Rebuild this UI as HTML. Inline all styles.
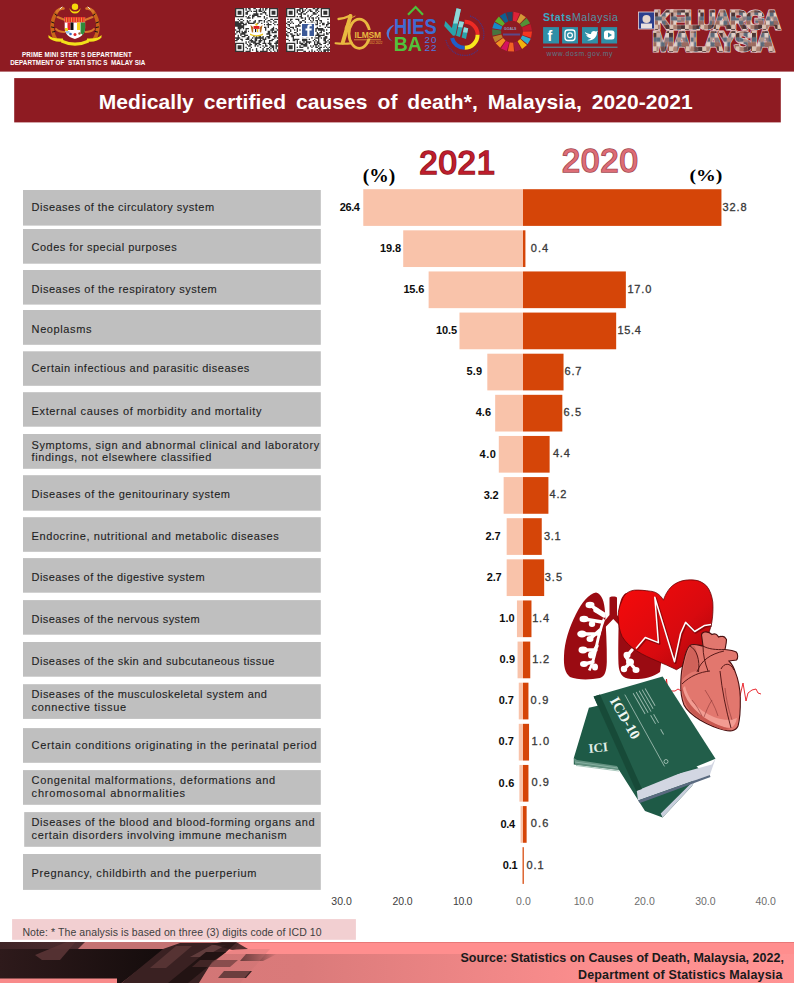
<!DOCTYPE html>
<html><head><meta charset="utf-8"><style>html,body{margin:0;padding:0;background:#fff;overflow:hidden;width:794px;height:983px;} svg{display:block} text{white-space:pre}</style></head>
<body><svg width="794" height="983" viewBox="0 0 794 983">
<rect x="0" y="0" width="794" height="71.6" fill="#8E1B22"/>
<rect x="14.2" y="78.1" width="766.6" height="44.3" fill="#8E1B22"/>
<rect x="23" y="190" width="297.8" height="35.6" fill="#BFBFBF"/>
<rect x="23" y="229" width="297.8" height="34.7" fill="#BFBFBF"/>
<rect x="23" y="270" width="297.8" height="34.6" fill="#BFBFBF"/>
<rect x="23" y="310" width="297.8" height="34.8" fill="#BFBFBF"/>
<rect x="23" y="351.3" width="297.8" height="34.5" fill="#BFBFBF"/>
<rect x="23" y="392.2" width="297.8" height="34.5" fill="#BFBFBF"/>
<rect x="23" y="434" width="297.8" height="34.8" fill="#BFBFBF"/>
<rect x="23" y="475.2" width="297.8" height="35.5" fill="#BFBFBF"/>
<rect x="23" y="517.2" width="297.8" height="34.6" fill="#BFBFBF"/>
<rect x="23" y="558.1" width="297.8" height="34.6" fill="#BFBFBF"/>
<rect x="23" y="600.1" width="297.8" height="34.6" fill="#BFBFBF"/>
<rect x="23" y="642" width="297.8" height="34.7" fill="#BFBFBF"/>
<rect x="23" y="684.2" width="297.8" height="34.7" fill="#BFBFBF"/>
<rect x="23" y="728.1" width="297.8" height="34.7" fill="#BFBFBF"/>
<rect x="23" y="770.1" width="297.8" height="34.7" fill="#BFBFBF"/>
<rect x="24.2" y="812.1" width="296.6" height="34.7" fill="#BFBFBF"/>
<rect x="23" y="854" width="297.8" height="35.9" fill="#BFBFBF"/>
<rect x="363.28" y="189.20" width="159.72" height="36.7" fill="#F9C3AA"/>
<rect x="523.00" y="189.20" width="198.44" height="36.7" fill="#D54508"/>
<rect x="403.21" y="230.32" width="119.79" height="36.7" fill="#F9C3AA"/>
<rect x="523.00" y="230.32" width="2.42" height="36.7" fill="#D54508"/>
<rect x="428.62" y="271.45" width="94.38" height="36.7" fill="#F9C3AA"/>
<rect x="523.00" y="271.45" width="102.85" height="36.7" fill="#D54508"/>
<rect x="459.48" y="312.57" width="63.52" height="36.7" fill="#F9C3AA"/>
<rect x="523.00" y="312.57" width="93.17" height="36.7" fill="#D54508"/>
<rect x="487.31" y="353.70" width="35.70" height="36.7" fill="#F9C3AA"/>
<rect x="523.00" y="353.70" width="40.53" height="36.7" fill="#D54508"/>
<rect x="495.17" y="394.82" width="27.83" height="36.7" fill="#F9C3AA"/>
<rect x="523.00" y="394.82" width="39.32" height="36.7" fill="#D54508"/>
<rect x="498.80" y="435.95" width="24.20" height="36.7" fill="#F9C3AA"/>
<rect x="523.00" y="435.95" width="26.62" height="36.7" fill="#D54508"/>
<rect x="503.64" y="477.07" width="19.36" height="36.7" fill="#F9C3AA"/>
<rect x="523.00" y="477.07" width="25.41" height="36.7" fill="#D54508"/>
<rect x="506.67" y="518.20" width="16.34" height="36.7" fill="#F9C3AA"/>
<rect x="523.00" y="518.20" width="18.75" height="36.7" fill="#D54508"/>
<rect x="506.67" y="559.33" width="16.34" height="36.7" fill="#F9C3AA"/>
<rect x="523.00" y="559.33" width="21.18" height="36.7" fill="#D54508"/>
<rect x="516.95" y="600.45" width="6.05" height="36.7" fill="#F9C3AA"/>
<rect x="523.00" y="600.45" width="8.47" height="36.7" fill="#D54508"/>
<rect x="517.55" y="641.58" width="5.45" height="36.7" fill="#F9C3AA"/>
<rect x="523.00" y="641.58" width="7.26" height="36.7" fill="#D54508"/>
<rect x="518.76" y="682.70" width="4.23" height="36.7" fill="#F9C3AA"/>
<rect x="523.00" y="682.70" width="5.45" height="36.7" fill="#D54508"/>
<rect x="518.76" y="723.83" width="4.23" height="36.7" fill="#F9C3AA"/>
<rect x="523.00" y="723.83" width="6.05" height="36.7" fill="#D54508"/>
<rect x="519.37" y="764.95" width="3.63" height="36.7" fill="#F9C3AA"/>
<rect x="523.00" y="764.95" width="5.45" height="36.7" fill="#D54508"/>
<rect x="520.58" y="806.08" width="2.42" height="36.7" fill="#F9C3AA"/>
<rect x="523.00" y="806.08" width="3.63" height="36.7" fill="#D54508"/>
<rect x="522.39" y="847.20" width="0.60" height="36.7" fill="#F9C3AA"/>
<rect x="522.70" y="847.20" width="1.10" height="36.7" fill="#D54508"/>
<rect x="12.1" y="919.1" width="343.8" height="20.7" fill="#F2CFD1"/>
<g><path d="M69.5 8 A6 6 0 0 0 80.5 8 A5.2 5.2 0 0 1 69.5 8z" fill="#F5D90A"/><circle cx="75" cy="6.8" r="3.2" fill="#F5D90A"/><g fill="none" stroke-linecap="round"><path d="M55.5 39 C50.5 31 51 20 57 11.5" stroke="#C8641A" stroke-width="3.6"/><path d="M57 11.5 C59 9 61 8 63.5 8.5" stroke="#D8782A" stroke-width="2.6"/><path d="M57.5 17 C60 18 62.5 19 65 20" stroke="#D8782A" stroke-width="2"/><path d="M56 29 C58 31 61 32 64.5 32" stroke="#D8782A" stroke-width="1.8"/><path d="M94.5 39 C99.5 31 99 20 93 11.5" stroke="#C8641A" stroke-width="3.6"/><path d="M93 11.5 C91 9 89 8 86.5 8.5" stroke="#D8782A" stroke-width="2.6"/><path d="M92.5 17 C90 18 87.5 19 85 20" stroke="#D8782A" stroke-width="2"/><path d="M94 29 C92 31 89 32 85.5 32" stroke="#D8782A" stroke-width="1.8"/><path d="M51.5 22 l2.5 1 M51.5 27 l2.5 0.5 M52.5 32 l2.5 -0.5 M55 14 l2 1.5 M98.5 22 l-2.5 1 M98.5 27 l-2.5 0.5 M97.5 32 l-2.5 -0.5 M95 14 l-2 1.5" stroke="#111" stroke-width="1"/><path d="M60 9 l2 -2 M90 9 l-2 -2" stroke="#E8E8E8" stroke-width="1"/></g><path d="M64.7 17 h20.4 v11 c0 6 -4.5 9.5 -10.2 11 c-5.7 -1.5 -10.2 -5 -10.2 -11z" fill="#fff"/><rect x="64.7" y="17" width="20.4" height="5.5" fill="#E8262A"/><path d="M66.5 17.5 v4.5 M69 17.5 v4.5 M71.5 17.5 v4.5 M74 17.5 v4.5 M76.5 17.5 v4.5 M79 17.5 v4.5 M81.5 17.5 v4.5 M84 17.5 v4.5" stroke="#E8C83A" stroke-width="0.7"/><rect x="67.5" y="22.5" width="3" height="7.5" fill="#E8262A"/><rect x="70.5" y="22.5" width="3" height="7.5" fill="#111"/><rect x="77" y="22.5" width="3" height="7.5" fill="#F2D21B"/><path d="M80.5 22.5 h4.6 v6 c0 3 -1 5 -2.5 6.5 l-2.1 -2z" fill="#2E8B3A"/><rect x="65" y="28" width="3" height="3" fill="#E8D01A"/><rect x="66" y="31" width="3.5" height="2.5" fill="#9AC8E8"/><circle cx="70.5" cy="34" r="1.3" fill="#3A6AC0"/><circle cx="75" cy="34.5" r="1.5" fill="#E02828"/><circle cx="79.5" cy="33.5" r="1.2" fill="#A06030"/><path d="M48.5 35 q3 4 14.5 3.5 l0.5 3 q-11 1 -15 -4z M101.5 35 q-3 4 -14.5 3.5 l-0.5 3 q11 1 15 -4z" fill="#F2E01A"/><path d="M61.5 39.5 q13.5 6 27 0 l0.5 3 q-14 6.5 -28 0z" fill="#F2E01A"/></g>
<rect x="235" y="8" width="43.1" height="44" fill="#fff"/>
<path d="M235.00 8.00h1.31v1.33h-1.31zM236.31 8.00h1.31v1.33h-1.31zM237.61 8.00h1.31v1.33h-1.31zM238.92 8.00h1.31v1.33h-1.31zM240.22 8.00h1.31v1.33h-1.31zM241.53 8.00h1.31v1.33h-1.31zM242.84 8.00h1.31v1.33h-1.31zM245.45 8.00h1.31v1.33h-1.31zM248.06 8.00h1.31v1.33h-1.31zM249.37 8.00h1.31v1.33h-1.31zM253.28 8.00h1.31v1.33h-1.31zM254.59 8.00h1.31v1.33h-1.31zM259.82 8.00h1.31v1.33h-1.31zM262.43 8.00h1.31v1.33h-1.31zM265.04 8.00h1.31v1.33h-1.31zM266.35 8.00h1.31v1.33h-1.31zM268.96 8.00h1.31v1.33h-1.31zM270.26 8.00h1.31v1.33h-1.31zM271.57 8.00h1.31v1.33h-1.31zM272.88 8.00h1.31v1.33h-1.31zM274.18 8.00h1.31v1.33h-1.31zM275.49 8.00h1.31v1.33h-1.31zM276.79 8.00h1.31v1.33h-1.31zM235.00 9.33h1.31v1.33h-1.31zM242.84 9.33h1.31v1.33h-1.31zM245.45 9.33h1.31v1.33h-1.31zM249.37 9.33h1.31v1.33h-1.31zM255.90 9.33h1.31v1.33h-1.31zM258.51 9.33h1.31v1.33h-1.31zM259.82 9.33h1.31v1.33h-1.31zM262.43 9.33h1.31v1.33h-1.31zM265.04 9.33h1.31v1.33h-1.31zM268.96 9.33h1.31v1.33h-1.31zM276.79 9.33h1.31v1.33h-1.31zM235.00 10.67h1.31v1.33h-1.31zM237.61 10.67h1.31v1.33h-1.31zM238.92 10.67h1.31v1.33h-1.31zM240.22 10.67h1.31v1.33h-1.31zM242.84 10.67h1.31v1.33h-1.31zM246.75 10.67h1.31v1.33h-1.31zM248.06 10.67h1.31v1.33h-1.31zM250.67 10.67h1.31v1.33h-1.31zM253.28 10.67h1.31v1.33h-1.31zM254.59 10.67h1.31v1.33h-1.31zM255.90 10.67h1.31v1.33h-1.31zM258.51 10.67h1.31v1.33h-1.31zM259.82 10.67h1.31v1.33h-1.31zM261.12 10.67h1.31v1.33h-1.31zM263.73 10.67h1.31v1.33h-1.31zM268.96 10.67h1.31v1.33h-1.31zM271.57 10.67h1.31v1.33h-1.31zM272.88 10.67h1.31v1.33h-1.31zM274.18 10.67h1.31v1.33h-1.31zM276.79 10.67h1.31v1.33h-1.31zM235.00 12.00h1.31v1.33h-1.31zM237.61 12.00h1.31v1.33h-1.31zM238.92 12.00h1.31v1.33h-1.31zM240.22 12.00h1.31v1.33h-1.31zM242.84 12.00h1.31v1.33h-1.31zM245.45 12.00h1.31v1.33h-1.31zM246.75 12.00h1.31v1.33h-1.31zM255.90 12.00h1.31v1.33h-1.31zM262.43 12.00h1.31v1.33h-1.31zM263.73 12.00h1.31v1.33h-1.31zM265.04 12.00h1.31v1.33h-1.31zM268.96 12.00h1.31v1.33h-1.31zM271.57 12.00h1.31v1.33h-1.31zM272.88 12.00h1.31v1.33h-1.31zM274.18 12.00h1.31v1.33h-1.31zM276.79 12.00h1.31v1.33h-1.31zM235.00 13.33h1.31v1.33h-1.31zM237.61 13.33h1.31v1.33h-1.31zM238.92 13.33h1.31v1.33h-1.31zM240.22 13.33h1.31v1.33h-1.31zM242.84 13.33h1.31v1.33h-1.31zM245.45 13.33h1.31v1.33h-1.31zM246.75 13.33h1.31v1.33h-1.31zM253.28 13.33h1.31v1.33h-1.31zM254.59 13.33h1.31v1.33h-1.31zM255.90 13.33h1.31v1.33h-1.31zM257.20 13.33h1.31v1.33h-1.31zM259.82 13.33h1.31v1.33h-1.31zM261.12 13.33h1.31v1.33h-1.31zM265.04 13.33h1.31v1.33h-1.31zM268.96 13.33h1.31v1.33h-1.31zM271.57 13.33h1.31v1.33h-1.31zM272.88 13.33h1.31v1.33h-1.31zM274.18 13.33h1.31v1.33h-1.31zM276.79 13.33h1.31v1.33h-1.31zM235.00 14.67h1.31v1.33h-1.31zM242.84 14.67h1.31v1.33h-1.31zM249.37 14.67h1.31v1.33h-1.31zM251.98 14.67h1.31v1.33h-1.31zM253.28 14.67h1.31v1.33h-1.31zM254.59 14.67h1.31v1.33h-1.31zM255.90 14.67h1.31v1.33h-1.31zM257.20 14.67h1.31v1.33h-1.31zM266.35 14.67h1.31v1.33h-1.31zM268.96 14.67h1.31v1.33h-1.31zM276.79 14.67h1.31v1.33h-1.31zM235.00 16.00h1.31v1.33h-1.31zM236.31 16.00h1.31v1.33h-1.31zM237.61 16.00h1.31v1.33h-1.31zM238.92 16.00h1.31v1.33h-1.31zM240.22 16.00h1.31v1.33h-1.31zM241.53 16.00h1.31v1.33h-1.31zM242.84 16.00h1.31v1.33h-1.31zM245.45 16.00h1.31v1.33h-1.31zM248.06 16.00h1.31v1.33h-1.31zM251.98 16.00h1.31v1.33h-1.31zM253.28 16.00h1.31v1.33h-1.31zM257.20 16.00h1.31v1.33h-1.31zM258.51 16.00h1.31v1.33h-1.31zM259.82 16.00h1.31v1.33h-1.31zM263.73 16.00h1.31v1.33h-1.31zM268.96 16.00h1.31v1.33h-1.31zM270.26 16.00h1.31v1.33h-1.31zM271.57 16.00h1.31v1.33h-1.31zM272.88 16.00h1.31v1.33h-1.31zM274.18 16.00h1.31v1.33h-1.31zM275.49 16.00h1.31v1.33h-1.31zM276.79 16.00h1.31v1.33h-1.31zM246.75 17.33h1.31v1.33h-1.31zM248.06 17.33h1.31v1.33h-1.31zM249.37 17.33h1.31v1.33h-1.31zM251.98 17.33h1.31v1.33h-1.31zM263.73 17.33h1.31v1.33h-1.31zM266.35 17.33h1.31v1.33h-1.31zM237.61 18.67h1.31v1.33h-1.31zM240.22 18.67h1.31v1.33h-1.31zM241.53 18.67h1.31v1.33h-1.31zM265.04 18.67h1.31v1.33h-1.31zM270.26 18.67h1.31v1.33h-1.31zM271.57 18.67h1.31v1.33h-1.31zM274.18 18.67h1.31v1.33h-1.31zM275.49 18.67h1.31v1.33h-1.31zM276.79 18.67h1.31v1.33h-1.31zM238.92 20.00h1.31v1.33h-1.31zM242.84 20.00h1.31v1.33h-1.31zM246.75 20.00h1.31v1.33h-1.31zM249.37 20.00h1.31v1.33h-1.31zM254.59 20.00h1.31v1.33h-1.31zM258.51 20.00h1.31v1.33h-1.31zM259.82 20.00h1.31v1.33h-1.31zM261.12 20.00h1.31v1.33h-1.31zM263.73 20.00h1.31v1.33h-1.31zM267.65 20.00h1.31v1.33h-1.31zM268.96 20.00h1.31v1.33h-1.31zM272.88 20.00h1.31v1.33h-1.31zM235.00 21.33h1.31v1.33h-1.31zM236.31 21.33h1.31v1.33h-1.31zM237.61 21.33h1.31v1.33h-1.31zM240.22 21.33h1.31v1.33h-1.31zM241.53 21.33h1.31v1.33h-1.31zM246.75 21.33h1.31v1.33h-1.31zM248.06 21.33h1.31v1.33h-1.31zM253.28 21.33h1.31v1.33h-1.31zM254.59 21.33h1.31v1.33h-1.31zM258.51 21.33h1.31v1.33h-1.31zM263.73 21.33h1.31v1.33h-1.31zM266.35 21.33h1.31v1.33h-1.31zM270.26 21.33h1.31v1.33h-1.31zM274.18 21.33h1.31v1.33h-1.31zM275.49 21.33h1.31v1.33h-1.31zM235.00 22.67h1.31v1.33h-1.31zM236.31 22.67h1.31v1.33h-1.31zM237.61 22.67h1.31v1.33h-1.31zM238.92 22.67h1.31v1.33h-1.31zM240.22 22.67h1.31v1.33h-1.31zM241.53 22.67h1.31v1.33h-1.31zM242.84 22.67h1.31v1.33h-1.31zM245.45 22.67h1.31v1.33h-1.31zM248.06 22.67h1.31v1.33h-1.31zM249.37 22.67h1.31v1.33h-1.31zM250.67 22.67h1.31v1.33h-1.31zM251.98 22.67h1.31v1.33h-1.31zM253.28 22.67h1.31v1.33h-1.31zM257.20 22.67h1.31v1.33h-1.31zM261.12 22.67h1.31v1.33h-1.31zM267.65 22.67h1.31v1.33h-1.31zM272.88 22.67h1.31v1.33h-1.31zM235.00 24.00h1.31v1.33h-1.31zM236.31 24.00h1.31v1.33h-1.31zM237.61 24.00h1.31v1.33h-1.31zM238.92 24.00h1.31v1.33h-1.31zM240.22 24.00h1.31v1.33h-1.31zM242.84 24.00h1.31v1.33h-1.31zM244.14 24.00h1.31v1.33h-1.31zM245.45 24.00h1.31v1.33h-1.31zM263.73 24.00h1.31v1.33h-1.31zM266.35 24.00h1.31v1.33h-1.31zM267.65 24.00h1.31v1.33h-1.31zM268.96 24.00h1.31v1.33h-1.31zM270.26 24.00h1.31v1.33h-1.31zM274.18 24.00h1.31v1.33h-1.31zM276.79 24.00h1.31v1.33h-1.31zM235.00 25.33h1.31v1.33h-1.31zM236.31 25.33h1.31v1.33h-1.31zM237.61 25.33h1.31v1.33h-1.31zM238.92 25.33h1.31v1.33h-1.31zM240.22 25.33h1.31v1.33h-1.31zM241.53 25.33h1.31v1.33h-1.31zM242.84 25.33h1.31v1.33h-1.31zM267.65 25.33h1.31v1.33h-1.31zM237.61 26.67h1.31v1.33h-1.31zM238.92 26.67h1.31v1.33h-1.31zM240.22 26.67h1.31v1.33h-1.31zM241.53 26.67h1.31v1.33h-1.31zM242.84 26.67h1.31v1.33h-1.31zM263.73 26.67h1.31v1.33h-1.31zM265.04 26.67h1.31v1.33h-1.31zM267.65 26.67h1.31v1.33h-1.31zM272.88 26.67h1.31v1.33h-1.31zM237.61 28.00h1.31v1.33h-1.31zM238.92 28.00h1.31v1.33h-1.31zM240.22 28.00h1.31v1.33h-1.31zM242.84 28.00h1.31v1.33h-1.31zM245.45 28.00h1.31v1.33h-1.31zM246.75 28.00h1.31v1.33h-1.31zM248.06 28.00h1.31v1.33h-1.31zM265.04 28.00h1.31v1.33h-1.31zM271.57 28.00h1.31v1.33h-1.31zM272.88 28.00h1.31v1.33h-1.31zM275.49 28.00h1.31v1.33h-1.31zM235.00 29.33h1.31v1.33h-1.31zM238.92 29.33h1.31v1.33h-1.31zM245.45 29.33h1.31v1.33h-1.31zM265.04 29.33h1.31v1.33h-1.31zM270.26 29.33h1.31v1.33h-1.31zM271.57 29.33h1.31v1.33h-1.31zM272.88 29.33h1.31v1.33h-1.31zM276.79 29.33h1.31v1.33h-1.31zM236.31 30.67h1.31v1.33h-1.31zM237.61 30.67h1.31v1.33h-1.31zM238.92 30.67h1.31v1.33h-1.31zM241.53 30.67h1.31v1.33h-1.31zM244.14 30.67h1.31v1.33h-1.31zM245.45 30.67h1.31v1.33h-1.31zM248.06 30.67h1.31v1.33h-1.31zM267.65 30.67h1.31v1.33h-1.31zM268.96 30.67h1.31v1.33h-1.31zM271.57 30.67h1.31v1.33h-1.31zM274.18 30.67h1.31v1.33h-1.31zM275.49 30.67h1.31v1.33h-1.31zM236.31 32.00h1.31v1.33h-1.31zM238.92 32.00h1.31v1.33h-1.31zM241.53 32.00h1.31v1.33h-1.31zM242.84 32.00h1.31v1.33h-1.31zM244.14 32.00h1.31v1.33h-1.31zM245.45 32.00h1.31v1.33h-1.31zM267.65 32.00h1.31v1.33h-1.31zM268.96 32.00h1.31v1.33h-1.31zM271.57 32.00h1.31v1.33h-1.31zM272.88 32.00h1.31v1.33h-1.31zM274.18 32.00h1.31v1.33h-1.31zM275.49 32.00h1.31v1.33h-1.31zM235.00 33.33h1.31v1.33h-1.31zM240.22 33.33h1.31v1.33h-1.31zM241.53 33.33h1.31v1.33h-1.31zM242.84 33.33h1.31v1.33h-1.31zM244.14 33.33h1.31v1.33h-1.31zM266.35 33.33h1.31v1.33h-1.31zM267.65 33.33h1.31v1.33h-1.31zM268.96 33.33h1.31v1.33h-1.31zM237.61 34.67h1.31v1.33h-1.31zM240.22 34.67h1.31v1.33h-1.31zM244.14 34.67h1.31v1.33h-1.31zM245.45 34.67h1.31v1.33h-1.31zM246.75 34.67h1.31v1.33h-1.31zM268.96 34.67h1.31v1.33h-1.31zM270.26 34.67h1.31v1.33h-1.31zM274.18 34.67h1.31v1.33h-1.31zM275.49 34.67h1.31v1.33h-1.31zM237.61 36.00h1.31v1.33h-1.31zM241.53 36.00h1.31v1.33h-1.31zM242.84 36.00h1.31v1.33h-1.31zM244.14 36.00h1.31v1.33h-1.31zM248.06 36.00h1.31v1.33h-1.31zM253.28 36.00h1.31v1.33h-1.31zM255.90 36.00h1.31v1.33h-1.31zM258.51 36.00h1.31v1.33h-1.31zM259.82 36.00h1.31v1.33h-1.31zM262.43 36.00h1.31v1.33h-1.31zM266.35 36.00h1.31v1.33h-1.31zM267.65 36.00h1.31v1.33h-1.31zM268.96 36.00h1.31v1.33h-1.31zM272.88 36.00h1.31v1.33h-1.31zM274.18 36.00h1.31v1.33h-1.31zM275.49 36.00h1.31v1.33h-1.31zM235.00 37.33h1.31v1.33h-1.31zM236.31 37.33h1.31v1.33h-1.31zM237.61 37.33h1.31v1.33h-1.31zM238.92 37.33h1.31v1.33h-1.31zM246.75 37.33h1.31v1.33h-1.31zM248.06 37.33h1.31v1.33h-1.31zM251.98 37.33h1.31v1.33h-1.31zM254.59 37.33h1.31v1.33h-1.31zM255.90 37.33h1.31v1.33h-1.31zM257.20 37.33h1.31v1.33h-1.31zM258.51 37.33h1.31v1.33h-1.31zM259.82 37.33h1.31v1.33h-1.31zM261.12 37.33h1.31v1.33h-1.31zM262.43 37.33h1.31v1.33h-1.31zM265.04 37.33h1.31v1.33h-1.31zM267.65 37.33h1.31v1.33h-1.31zM268.96 37.33h1.31v1.33h-1.31zM274.18 37.33h1.31v1.33h-1.31zM276.79 37.33h1.31v1.33h-1.31zM236.31 38.67h1.31v1.33h-1.31zM237.61 38.67h1.31v1.33h-1.31zM240.22 38.67h1.31v1.33h-1.31zM241.53 38.67h1.31v1.33h-1.31zM245.45 38.67h1.31v1.33h-1.31zM246.75 38.67h1.31v1.33h-1.31zM248.06 38.67h1.31v1.33h-1.31zM250.67 38.67h1.31v1.33h-1.31zM254.59 38.67h1.31v1.33h-1.31zM255.90 38.67h1.31v1.33h-1.31zM259.82 38.67h1.31v1.33h-1.31zM262.43 38.67h1.31v1.33h-1.31zM263.73 38.67h1.31v1.33h-1.31zM265.04 38.67h1.31v1.33h-1.31zM271.57 38.67h1.31v1.33h-1.31zM272.88 38.67h1.31v1.33h-1.31zM235.00 40.00h1.31v1.33h-1.31zM236.31 40.00h1.31v1.33h-1.31zM241.53 40.00h1.31v1.33h-1.31zM249.37 40.00h1.31v1.33h-1.31zM250.67 40.00h1.31v1.33h-1.31zM251.98 40.00h1.31v1.33h-1.31zM254.59 40.00h1.31v1.33h-1.31zM255.90 40.00h1.31v1.33h-1.31zM258.51 40.00h1.31v1.33h-1.31zM259.82 40.00h1.31v1.33h-1.31zM261.12 40.00h1.31v1.33h-1.31zM263.73 40.00h1.31v1.33h-1.31zM268.96 40.00h1.31v1.33h-1.31zM270.26 40.00h1.31v1.33h-1.31zM271.57 40.00h1.31v1.33h-1.31zM276.79 40.00h1.31v1.33h-1.31zM245.45 41.33h1.31v1.33h-1.31zM248.06 41.33h1.31v1.33h-1.31zM250.67 41.33h1.31v1.33h-1.31zM251.98 41.33h1.31v1.33h-1.31zM253.28 41.33h1.31v1.33h-1.31zM254.59 41.33h1.31v1.33h-1.31zM258.51 41.33h1.31v1.33h-1.31zM259.82 41.33h1.31v1.33h-1.31zM263.73 41.33h1.31v1.33h-1.31zM268.96 41.33h1.31v1.33h-1.31zM275.49 41.33h1.31v1.33h-1.31zM276.79 41.33h1.31v1.33h-1.31zM235.00 42.67h1.31v1.33h-1.31zM236.31 42.67h1.31v1.33h-1.31zM237.61 42.67h1.31v1.33h-1.31zM238.92 42.67h1.31v1.33h-1.31zM240.22 42.67h1.31v1.33h-1.31zM241.53 42.67h1.31v1.33h-1.31zM242.84 42.67h1.31v1.33h-1.31zM245.45 42.67h1.31v1.33h-1.31zM249.37 42.67h1.31v1.33h-1.31zM253.28 42.67h1.31v1.33h-1.31zM254.59 42.67h1.31v1.33h-1.31zM255.90 42.67h1.31v1.33h-1.31zM257.20 42.67h1.31v1.33h-1.31zM258.51 42.67h1.31v1.33h-1.31zM262.43 42.67h1.31v1.33h-1.31zM263.73 42.67h1.31v1.33h-1.31zM265.04 42.67h1.31v1.33h-1.31zM267.65 42.67h1.31v1.33h-1.31zM268.96 42.67h1.31v1.33h-1.31zM270.26 42.67h1.31v1.33h-1.31zM274.18 42.67h1.31v1.33h-1.31zM275.49 42.67h1.31v1.33h-1.31zM276.79 42.67h1.31v1.33h-1.31zM235.00 44.00h1.31v1.33h-1.31zM242.84 44.00h1.31v1.33h-1.31zM246.75 44.00h1.31v1.33h-1.31zM249.37 44.00h1.31v1.33h-1.31zM250.67 44.00h1.31v1.33h-1.31zM254.59 44.00h1.31v1.33h-1.31zM255.90 44.00h1.31v1.33h-1.31zM258.51 44.00h1.31v1.33h-1.31zM259.82 44.00h1.31v1.33h-1.31zM265.04 44.00h1.31v1.33h-1.31zM268.96 44.00h1.31v1.33h-1.31zM270.26 44.00h1.31v1.33h-1.31zM275.49 44.00h1.31v1.33h-1.31zM235.00 45.33h1.31v1.33h-1.31zM237.61 45.33h1.31v1.33h-1.31zM238.92 45.33h1.31v1.33h-1.31zM240.22 45.33h1.31v1.33h-1.31zM242.84 45.33h1.31v1.33h-1.31zM248.06 45.33h1.31v1.33h-1.31zM249.37 45.33h1.31v1.33h-1.31zM254.59 45.33h1.31v1.33h-1.31zM257.20 45.33h1.31v1.33h-1.31zM262.43 45.33h1.31v1.33h-1.31zM265.04 45.33h1.31v1.33h-1.31zM266.35 45.33h1.31v1.33h-1.31zM270.26 45.33h1.31v1.33h-1.31zM271.57 45.33h1.31v1.33h-1.31zM272.88 45.33h1.31v1.33h-1.31zM275.49 45.33h1.31v1.33h-1.31zM276.79 45.33h1.31v1.33h-1.31zM235.00 46.67h1.31v1.33h-1.31zM237.61 46.67h1.31v1.33h-1.31zM238.92 46.67h1.31v1.33h-1.31zM240.22 46.67h1.31v1.33h-1.31zM242.84 46.67h1.31v1.33h-1.31zM245.45 46.67h1.31v1.33h-1.31zM250.67 46.67h1.31v1.33h-1.31zM259.82 46.67h1.31v1.33h-1.31zM263.73 46.67h1.31v1.33h-1.31zM268.96 46.67h1.31v1.33h-1.31zM271.57 46.67h1.31v1.33h-1.31zM272.88 46.67h1.31v1.33h-1.31zM275.49 46.67h1.31v1.33h-1.31zM235.00 48.00h1.31v1.33h-1.31zM237.61 48.00h1.31v1.33h-1.31zM238.92 48.00h1.31v1.33h-1.31zM240.22 48.00h1.31v1.33h-1.31zM242.84 48.00h1.31v1.33h-1.31zM246.75 48.00h1.31v1.33h-1.31zM249.37 48.00h1.31v1.33h-1.31zM255.90 48.00h1.31v1.33h-1.31zM262.43 48.00h1.31v1.33h-1.31zM266.35 48.00h1.31v1.33h-1.31zM267.65 48.00h1.31v1.33h-1.31zM270.26 48.00h1.31v1.33h-1.31zM272.88 48.00h1.31v1.33h-1.31zM275.49 48.00h1.31v1.33h-1.31zM235.00 49.33h1.31v1.33h-1.31zM242.84 49.33h1.31v1.33h-1.31zM249.37 49.33h1.31v1.33h-1.31zM251.98 49.33h1.31v1.33h-1.31zM255.90 49.33h1.31v1.33h-1.31zM262.43 49.33h1.31v1.33h-1.31zM266.35 49.33h1.31v1.33h-1.31zM268.96 49.33h1.31v1.33h-1.31zM272.88 49.33h1.31v1.33h-1.31zM276.79 49.33h1.31v1.33h-1.31zM235.00 50.67h1.31v1.33h-1.31zM236.31 50.67h1.31v1.33h-1.31zM237.61 50.67h1.31v1.33h-1.31zM238.92 50.67h1.31v1.33h-1.31zM240.22 50.67h1.31v1.33h-1.31zM241.53 50.67h1.31v1.33h-1.31zM242.84 50.67h1.31v1.33h-1.31zM245.45 50.67h1.31v1.33h-1.31zM246.75 50.67h1.31v1.33h-1.31zM248.06 50.67h1.31v1.33h-1.31zM249.37 50.67h1.31v1.33h-1.31zM255.90 50.67h1.31v1.33h-1.31zM257.20 50.67h1.31v1.33h-1.31zM259.82 50.67h1.31v1.33h-1.31zM261.12 50.67h1.31v1.33h-1.31zM262.43 50.67h1.31v1.33h-1.31zM263.73 50.67h1.31v1.33h-1.31zM265.04 50.67h1.31v1.33h-1.31zM266.35 50.67h1.31v1.33h-1.31zM270.26 50.67h1.31v1.33h-1.31zM274.18 50.67h1.31v1.33h-1.31zM276.79 50.67h1.31v1.33h-1.31z" fill="#333"/>
<rect x="286" y="8" width="44" height="44" fill="#fff"/>
<path d="M286.00 8.00h1.33v1.33h-1.33zM287.33 8.00h1.33v1.33h-1.33zM288.67 8.00h1.33v1.33h-1.33zM290.00 8.00h1.33v1.33h-1.33zM291.33 8.00h1.33v1.33h-1.33zM292.67 8.00h1.33v1.33h-1.33zM294.00 8.00h1.33v1.33h-1.33zM299.33 8.00h1.33v1.33h-1.33zM300.67 8.00h1.33v1.33h-1.33zM302.00 8.00h1.33v1.33h-1.33zM306.00 8.00h1.33v1.33h-1.33zM312.67 8.00h1.33v1.33h-1.33zM314.00 8.00h1.33v1.33h-1.33zM316.67 8.00h1.33v1.33h-1.33zM318.00 8.00h1.33v1.33h-1.33zM320.67 8.00h1.33v1.33h-1.33zM322.00 8.00h1.33v1.33h-1.33zM323.33 8.00h1.33v1.33h-1.33zM324.67 8.00h1.33v1.33h-1.33zM326.00 8.00h1.33v1.33h-1.33zM327.33 8.00h1.33v1.33h-1.33zM328.67 8.00h1.33v1.33h-1.33zM286.00 9.33h1.33v1.33h-1.33zM294.00 9.33h1.33v1.33h-1.33zM296.67 9.33h1.33v1.33h-1.33zM298.00 9.33h1.33v1.33h-1.33zM299.33 9.33h1.33v1.33h-1.33zM302.00 9.33h1.33v1.33h-1.33zM304.67 9.33h1.33v1.33h-1.33zM308.67 9.33h1.33v1.33h-1.33zM310.00 9.33h1.33v1.33h-1.33zM315.33 9.33h1.33v1.33h-1.33zM316.67 9.33h1.33v1.33h-1.33zM320.67 9.33h1.33v1.33h-1.33zM328.67 9.33h1.33v1.33h-1.33zM286.00 10.67h1.33v1.33h-1.33zM288.67 10.67h1.33v1.33h-1.33zM290.00 10.67h1.33v1.33h-1.33zM291.33 10.67h1.33v1.33h-1.33zM294.00 10.67h1.33v1.33h-1.33zM296.67 10.67h1.33v1.33h-1.33zM299.33 10.67h1.33v1.33h-1.33zM302.00 10.67h1.33v1.33h-1.33zM303.33 10.67h1.33v1.33h-1.33zM307.33 10.67h1.33v1.33h-1.33zM310.00 10.67h1.33v1.33h-1.33zM311.33 10.67h1.33v1.33h-1.33zM315.33 10.67h1.33v1.33h-1.33zM318.00 10.67h1.33v1.33h-1.33zM320.67 10.67h1.33v1.33h-1.33zM323.33 10.67h1.33v1.33h-1.33zM324.67 10.67h1.33v1.33h-1.33zM326.00 10.67h1.33v1.33h-1.33zM328.67 10.67h1.33v1.33h-1.33zM286.00 12.00h1.33v1.33h-1.33zM288.67 12.00h1.33v1.33h-1.33zM290.00 12.00h1.33v1.33h-1.33zM291.33 12.00h1.33v1.33h-1.33zM294.00 12.00h1.33v1.33h-1.33zM296.67 12.00h1.33v1.33h-1.33zM300.67 12.00h1.33v1.33h-1.33zM302.00 12.00h1.33v1.33h-1.33zM306.00 12.00h1.33v1.33h-1.33zM312.67 12.00h1.33v1.33h-1.33zM314.00 12.00h1.33v1.33h-1.33zM316.67 12.00h1.33v1.33h-1.33zM320.67 12.00h1.33v1.33h-1.33zM323.33 12.00h1.33v1.33h-1.33zM324.67 12.00h1.33v1.33h-1.33zM326.00 12.00h1.33v1.33h-1.33zM328.67 12.00h1.33v1.33h-1.33zM286.00 13.33h1.33v1.33h-1.33zM288.67 13.33h1.33v1.33h-1.33zM290.00 13.33h1.33v1.33h-1.33zM291.33 13.33h1.33v1.33h-1.33zM294.00 13.33h1.33v1.33h-1.33zM298.00 13.33h1.33v1.33h-1.33zM299.33 13.33h1.33v1.33h-1.33zM300.67 13.33h1.33v1.33h-1.33zM303.33 13.33h1.33v1.33h-1.33zM304.67 13.33h1.33v1.33h-1.33zM312.67 13.33h1.33v1.33h-1.33zM314.00 13.33h1.33v1.33h-1.33zM315.33 13.33h1.33v1.33h-1.33zM320.67 13.33h1.33v1.33h-1.33zM323.33 13.33h1.33v1.33h-1.33zM324.67 13.33h1.33v1.33h-1.33zM326.00 13.33h1.33v1.33h-1.33zM328.67 13.33h1.33v1.33h-1.33zM286.00 14.67h1.33v1.33h-1.33zM294.00 14.67h1.33v1.33h-1.33zM300.67 14.67h1.33v1.33h-1.33zM307.33 14.67h1.33v1.33h-1.33zM311.33 14.67h1.33v1.33h-1.33zM318.00 14.67h1.33v1.33h-1.33zM320.67 14.67h1.33v1.33h-1.33zM328.67 14.67h1.33v1.33h-1.33zM286.00 16.00h1.33v1.33h-1.33zM287.33 16.00h1.33v1.33h-1.33zM288.67 16.00h1.33v1.33h-1.33zM290.00 16.00h1.33v1.33h-1.33zM291.33 16.00h1.33v1.33h-1.33zM292.67 16.00h1.33v1.33h-1.33zM294.00 16.00h1.33v1.33h-1.33zM296.67 16.00h1.33v1.33h-1.33zM299.33 16.00h1.33v1.33h-1.33zM300.67 16.00h1.33v1.33h-1.33zM307.33 16.00h1.33v1.33h-1.33zM310.00 16.00h1.33v1.33h-1.33zM316.67 16.00h1.33v1.33h-1.33zM320.67 16.00h1.33v1.33h-1.33zM322.00 16.00h1.33v1.33h-1.33zM323.33 16.00h1.33v1.33h-1.33zM324.67 16.00h1.33v1.33h-1.33zM326.00 16.00h1.33v1.33h-1.33zM327.33 16.00h1.33v1.33h-1.33zM328.67 16.00h1.33v1.33h-1.33zM300.67 17.33h1.33v1.33h-1.33zM302.00 17.33h1.33v1.33h-1.33zM304.67 17.33h1.33v1.33h-1.33zM308.67 17.33h1.33v1.33h-1.33zM311.33 17.33h1.33v1.33h-1.33zM312.67 17.33h1.33v1.33h-1.33zM315.33 17.33h1.33v1.33h-1.33zM318.00 17.33h1.33v1.33h-1.33zM287.33 18.67h1.33v1.33h-1.33zM290.00 18.67h1.33v1.33h-1.33zM291.33 18.67h1.33v1.33h-1.33zM295.33 18.67h1.33v1.33h-1.33zM296.67 18.67h1.33v1.33h-1.33zM298.00 18.67h1.33v1.33h-1.33zM304.67 18.67h1.33v1.33h-1.33zM308.67 18.67h1.33v1.33h-1.33zM312.67 18.67h1.33v1.33h-1.33zM318.00 18.67h1.33v1.33h-1.33zM327.33 18.67h1.33v1.33h-1.33zM290.00 20.00h1.33v1.33h-1.33zM298.00 20.00h1.33v1.33h-1.33zM302.00 20.00h1.33v1.33h-1.33zM303.33 20.00h1.33v1.33h-1.33zM310.00 20.00h1.33v1.33h-1.33zM312.67 20.00h1.33v1.33h-1.33zM315.33 20.00h1.33v1.33h-1.33zM316.67 20.00h1.33v1.33h-1.33zM319.33 20.00h1.33v1.33h-1.33zM320.67 20.00h1.33v1.33h-1.33zM287.33 21.33h1.33v1.33h-1.33zM288.67 21.33h1.33v1.33h-1.33zM291.33 21.33h1.33v1.33h-1.33zM299.33 21.33h1.33v1.33h-1.33zM300.67 21.33h1.33v1.33h-1.33zM304.67 21.33h1.33v1.33h-1.33zM311.33 21.33h1.33v1.33h-1.33zM316.67 21.33h1.33v1.33h-1.33zM320.67 21.33h1.33v1.33h-1.33zM327.33 21.33h1.33v1.33h-1.33zM286.00 22.67h1.33v1.33h-1.33zM290.00 22.67h1.33v1.33h-1.33zM292.67 22.67h1.33v1.33h-1.33zM299.33 22.67h1.33v1.33h-1.33zM300.67 22.67h1.33v1.33h-1.33zM304.67 22.67h1.33v1.33h-1.33zM307.33 22.67h1.33v1.33h-1.33zM308.67 22.67h1.33v1.33h-1.33zM310.00 22.67h1.33v1.33h-1.33zM312.67 22.67h1.33v1.33h-1.33zM314.00 22.67h1.33v1.33h-1.33zM316.67 22.67h1.33v1.33h-1.33zM319.33 22.67h1.33v1.33h-1.33zM322.00 22.67h1.33v1.33h-1.33zM323.33 22.67h1.33v1.33h-1.33zM327.33 22.67h1.33v1.33h-1.33zM328.67 22.67h1.33v1.33h-1.33zM287.33 24.00h1.33v1.33h-1.33zM288.67 24.00h1.33v1.33h-1.33zM298.00 24.00h1.33v1.33h-1.33zM315.33 24.00h1.33v1.33h-1.33zM316.67 24.00h1.33v1.33h-1.33zM322.00 24.00h1.33v1.33h-1.33zM323.33 24.00h1.33v1.33h-1.33zM326.00 24.00h1.33v1.33h-1.33zM327.33 24.00h1.33v1.33h-1.33zM288.67 25.33h1.33v1.33h-1.33zM295.33 25.33h1.33v1.33h-1.33zM296.67 25.33h1.33v1.33h-1.33zM298.00 25.33h1.33v1.33h-1.33zM299.33 25.33h1.33v1.33h-1.33zM319.33 25.33h1.33v1.33h-1.33zM326.00 25.33h1.33v1.33h-1.33zM286.00 26.67h1.33v1.33h-1.33zM290.00 26.67h1.33v1.33h-1.33zM291.33 26.67h1.33v1.33h-1.33zM292.67 26.67h1.33v1.33h-1.33zM295.33 26.67h1.33v1.33h-1.33zM316.67 26.67h1.33v1.33h-1.33zM324.67 26.67h1.33v1.33h-1.33zM327.33 26.67h1.33v1.33h-1.33zM328.67 26.67h1.33v1.33h-1.33zM287.33 28.00h1.33v1.33h-1.33zM288.67 28.00h1.33v1.33h-1.33zM292.67 28.00h1.33v1.33h-1.33zM296.67 28.00h1.33v1.33h-1.33zM315.33 28.00h1.33v1.33h-1.33zM316.67 28.00h1.33v1.33h-1.33zM318.00 28.00h1.33v1.33h-1.33zM319.33 28.00h1.33v1.33h-1.33zM320.67 28.00h1.33v1.33h-1.33zM322.00 28.00h1.33v1.33h-1.33zM290.00 29.33h1.33v1.33h-1.33zM294.00 29.33h1.33v1.33h-1.33zM296.67 29.33h1.33v1.33h-1.33zM299.33 29.33h1.33v1.33h-1.33zM315.33 29.33h1.33v1.33h-1.33zM318.00 29.33h1.33v1.33h-1.33zM319.33 29.33h1.33v1.33h-1.33zM320.67 29.33h1.33v1.33h-1.33zM322.00 29.33h1.33v1.33h-1.33zM323.33 29.33h1.33v1.33h-1.33zM326.00 29.33h1.33v1.33h-1.33zM286.00 30.67h1.33v1.33h-1.33zM290.00 30.67h1.33v1.33h-1.33zM296.67 30.67h1.33v1.33h-1.33zM315.33 30.67h1.33v1.33h-1.33zM320.67 30.67h1.33v1.33h-1.33zM323.33 30.67h1.33v1.33h-1.33zM287.33 32.00h1.33v1.33h-1.33zM288.67 32.00h1.33v1.33h-1.33zM294.00 32.00h1.33v1.33h-1.33zM295.33 32.00h1.33v1.33h-1.33zM316.67 32.00h1.33v1.33h-1.33zM319.33 32.00h1.33v1.33h-1.33zM320.67 32.00h1.33v1.33h-1.33zM326.00 32.00h1.33v1.33h-1.33zM328.67 32.00h1.33v1.33h-1.33zM286.00 33.33h1.33v1.33h-1.33zM290.00 33.33h1.33v1.33h-1.33zM291.33 33.33h1.33v1.33h-1.33zM296.67 33.33h1.33v1.33h-1.33zM299.33 33.33h1.33v1.33h-1.33zM316.67 33.33h1.33v1.33h-1.33zM318.00 33.33h1.33v1.33h-1.33zM323.33 33.33h1.33v1.33h-1.33zM326.00 33.33h1.33v1.33h-1.33zM327.33 33.33h1.33v1.33h-1.33zM286.00 34.67h1.33v1.33h-1.33zM287.33 34.67h1.33v1.33h-1.33zM291.33 34.67h1.33v1.33h-1.33zM292.67 34.67h1.33v1.33h-1.33zM294.00 34.67h1.33v1.33h-1.33zM296.67 34.67h1.33v1.33h-1.33zM298.00 34.67h1.33v1.33h-1.33zM315.33 34.67h1.33v1.33h-1.33zM316.67 34.67h1.33v1.33h-1.33zM318.00 34.67h1.33v1.33h-1.33zM319.33 34.67h1.33v1.33h-1.33zM320.67 34.67h1.33v1.33h-1.33zM322.00 34.67h1.33v1.33h-1.33zM323.33 34.67h1.33v1.33h-1.33zM287.33 36.00h1.33v1.33h-1.33zM291.33 36.00h1.33v1.33h-1.33zM292.67 36.00h1.33v1.33h-1.33zM302.00 36.00h1.33v1.33h-1.33zM306.00 36.00h1.33v1.33h-1.33zM307.33 36.00h1.33v1.33h-1.33zM311.33 36.00h1.33v1.33h-1.33zM314.00 36.00h1.33v1.33h-1.33zM318.00 36.00h1.33v1.33h-1.33zM319.33 36.00h1.33v1.33h-1.33zM324.67 36.00h1.33v1.33h-1.33zM326.00 36.00h1.33v1.33h-1.33zM292.67 37.33h1.33v1.33h-1.33zM311.33 37.33h1.33v1.33h-1.33zM315.33 37.33h1.33v1.33h-1.33zM316.67 37.33h1.33v1.33h-1.33zM318.00 37.33h1.33v1.33h-1.33zM320.67 37.33h1.33v1.33h-1.33zM323.33 37.33h1.33v1.33h-1.33zM324.67 37.33h1.33v1.33h-1.33zM326.00 37.33h1.33v1.33h-1.33zM286.00 38.67h1.33v1.33h-1.33zM287.33 38.67h1.33v1.33h-1.33zM292.67 38.67h1.33v1.33h-1.33zM294.00 38.67h1.33v1.33h-1.33zM295.33 38.67h1.33v1.33h-1.33zM296.67 38.67h1.33v1.33h-1.33zM298.00 38.67h1.33v1.33h-1.33zM302.00 38.67h1.33v1.33h-1.33zM303.33 38.67h1.33v1.33h-1.33zM304.67 38.67h1.33v1.33h-1.33zM306.00 38.67h1.33v1.33h-1.33zM308.67 38.67h1.33v1.33h-1.33zM314.00 38.67h1.33v1.33h-1.33zM318.00 38.67h1.33v1.33h-1.33zM323.33 38.67h1.33v1.33h-1.33zM324.67 38.67h1.33v1.33h-1.33zM328.67 38.67h1.33v1.33h-1.33zM288.67 40.00h1.33v1.33h-1.33zM292.67 40.00h1.33v1.33h-1.33zM294.00 40.00h1.33v1.33h-1.33zM296.67 40.00h1.33v1.33h-1.33zM302.00 40.00h1.33v1.33h-1.33zM303.33 40.00h1.33v1.33h-1.33zM304.67 40.00h1.33v1.33h-1.33zM306.00 40.00h1.33v1.33h-1.33zM312.67 40.00h1.33v1.33h-1.33zM315.33 40.00h1.33v1.33h-1.33zM318.00 40.00h1.33v1.33h-1.33zM323.33 40.00h1.33v1.33h-1.33zM324.67 40.00h1.33v1.33h-1.33zM327.33 40.00h1.33v1.33h-1.33zM296.67 41.33h1.33v1.33h-1.33zM299.33 41.33h1.33v1.33h-1.33zM303.33 41.33h1.33v1.33h-1.33zM306.00 41.33h1.33v1.33h-1.33zM307.33 41.33h1.33v1.33h-1.33zM308.67 41.33h1.33v1.33h-1.33zM310.00 41.33h1.33v1.33h-1.33zM314.00 41.33h1.33v1.33h-1.33zM316.67 41.33h1.33v1.33h-1.33zM318.00 41.33h1.33v1.33h-1.33zM324.67 41.33h1.33v1.33h-1.33zM326.00 41.33h1.33v1.33h-1.33zM328.67 41.33h1.33v1.33h-1.33zM286.00 42.67h1.33v1.33h-1.33zM287.33 42.67h1.33v1.33h-1.33zM288.67 42.67h1.33v1.33h-1.33zM290.00 42.67h1.33v1.33h-1.33zM291.33 42.67h1.33v1.33h-1.33zM292.67 42.67h1.33v1.33h-1.33zM294.00 42.67h1.33v1.33h-1.33zM296.67 42.67h1.33v1.33h-1.33zM299.33 42.67h1.33v1.33h-1.33zM300.67 42.67h1.33v1.33h-1.33zM302.00 42.67h1.33v1.33h-1.33zM304.67 42.67h1.33v1.33h-1.33zM306.00 42.67h1.33v1.33h-1.33zM308.67 42.67h1.33v1.33h-1.33zM314.00 42.67h1.33v1.33h-1.33zM316.67 42.67h1.33v1.33h-1.33zM318.00 42.67h1.33v1.33h-1.33zM319.33 42.67h1.33v1.33h-1.33zM323.33 42.67h1.33v1.33h-1.33zM324.67 42.67h1.33v1.33h-1.33zM328.67 42.67h1.33v1.33h-1.33zM286.00 44.00h1.33v1.33h-1.33zM294.00 44.00h1.33v1.33h-1.33zM300.67 44.00h1.33v1.33h-1.33zM302.00 44.00h1.33v1.33h-1.33zM303.33 44.00h1.33v1.33h-1.33zM304.67 44.00h1.33v1.33h-1.33zM306.00 44.00h1.33v1.33h-1.33zM314.00 44.00h1.33v1.33h-1.33zM315.33 44.00h1.33v1.33h-1.33zM316.67 44.00h1.33v1.33h-1.33zM319.33 44.00h1.33v1.33h-1.33zM320.67 44.00h1.33v1.33h-1.33zM327.33 44.00h1.33v1.33h-1.33zM286.00 45.33h1.33v1.33h-1.33zM288.67 45.33h1.33v1.33h-1.33zM290.00 45.33h1.33v1.33h-1.33zM291.33 45.33h1.33v1.33h-1.33zM294.00 45.33h1.33v1.33h-1.33zM299.33 45.33h1.33v1.33h-1.33zM303.33 45.33h1.33v1.33h-1.33zM304.67 45.33h1.33v1.33h-1.33zM306.00 45.33h1.33v1.33h-1.33zM310.00 45.33h1.33v1.33h-1.33zM312.67 45.33h1.33v1.33h-1.33zM315.33 45.33h1.33v1.33h-1.33zM318.00 45.33h1.33v1.33h-1.33zM324.67 45.33h1.33v1.33h-1.33zM286.00 46.67h1.33v1.33h-1.33zM288.67 46.67h1.33v1.33h-1.33zM290.00 46.67h1.33v1.33h-1.33zM291.33 46.67h1.33v1.33h-1.33zM294.00 46.67h1.33v1.33h-1.33zM296.67 46.67h1.33v1.33h-1.33zM299.33 46.67h1.33v1.33h-1.33zM300.67 46.67h1.33v1.33h-1.33zM302.00 46.67h1.33v1.33h-1.33zM307.33 46.67h1.33v1.33h-1.33zM311.33 46.67h1.33v1.33h-1.33zM315.33 46.67h1.33v1.33h-1.33zM316.67 46.67h1.33v1.33h-1.33zM319.33 46.67h1.33v1.33h-1.33zM320.67 46.67h1.33v1.33h-1.33zM323.33 46.67h1.33v1.33h-1.33zM326.00 46.67h1.33v1.33h-1.33zM328.67 46.67h1.33v1.33h-1.33zM286.00 48.00h1.33v1.33h-1.33zM288.67 48.00h1.33v1.33h-1.33zM290.00 48.00h1.33v1.33h-1.33zM291.33 48.00h1.33v1.33h-1.33zM294.00 48.00h1.33v1.33h-1.33zM307.33 48.00h1.33v1.33h-1.33zM318.00 48.00h1.33v1.33h-1.33zM319.33 48.00h1.33v1.33h-1.33zM327.33 48.00h1.33v1.33h-1.33zM286.00 49.33h1.33v1.33h-1.33zM294.00 49.33h1.33v1.33h-1.33zM296.67 49.33h1.33v1.33h-1.33zM298.00 49.33h1.33v1.33h-1.33zM299.33 49.33h1.33v1.33h-1.33zM300.67 49.33h1.33v1.33h-1.33zM302.00 49.33h1.33v1.33h-1.33zM311.33 49.33h1.33v1.33h-1.33zM316.67 49.33h1.33v1.33h-1.33zM319.33 49.33h1.33v1.33h-1.33zM323.33 49.33h1.33v1.33h-1.33zM324.67 49.33h1.33v1.33h-1.33zM326.00 49.33h1.33v1.33h-1.33zM327.33 49.33h1.33v1.33h-1.33zM328.67 49.33h1.33v1.33h-1.33zM286.00 50.67h1.33v1.33h-1.33zM287.33 50.67h1.33v1.33h-1.33zM288.67 50.67h1.33v1.33h-1.33zM290.00 50.67h1.33v1.33h-1.33zM291.33 50.67h1.33v1.33h-1.33zM292.67 50.67h1.33v1.33h-1.33zM294.00 50.67h1.33v1.33h-1.33zM296.67 50.67h1.33v1.33h-1.33zM303.33 50.67h1.33v1.33h-1.33zM304.67 50.67h1.33v1.33h-1.33zM308.67 50.67h1.33v1.33h-1.33zM311.33 50.67h1.33v1.33h-1.33zM314.00 50.67h1.33v1.33h-1.33zM318.00 50.67h1.33v1.33h-1.33zM320.67 50.67h1.33v1.33h-1.33zM323.33 50.67h1.33v1.33h-1.33zM324.67 50.67h1.33v1.33h-1.33zM327.33 50.67h1.33v1.33h-1.33z" fill="#333"/>
<rect x="249" y="24" width="15" height="12" fill="#fff"/><path d="M250.5 25 l2.5 2 l0.5 4 l-1.5 2z M262.5 25 l-2.5 2 l-0.5 4 l1.5 2z" fill="#B5651D"/><rect x="253.5" y="26" width="6" height="3" fill="#E02020"/><rect x="253.5" y="29" width="6" height="3.5" fill="#fff" stroke="#ccc" stroke-width="0.3"/><rect x="255" y="29" width="1.2" height="3" fill="#111"/><rect x="257" y="29" width="1.2" height="3" fill="#E8C21A"/><path d="M250 33.5 q6.5 3.5 13 0 v1.5 q-6.5 3 -13 0z" fill="#E8C21A"/><circle cx="256.5" cy="24.5" r="1.2" fill="#E8C21A"/>
<rect x="301" y="23" width="14" height="14" fill="#fff"/><rect x="302" y="24" width="12" height="12" fill="#3B5998"/><path d="M309.5 36 v-5.5 h2 l.3 -2 h-2.3 v-1.3 c0-.6 .2-1 1-1 h1.3 v-1.8 c-.3 0 -1 -.1 -1.9 -.1 c-1.9 0 -2.6 1.1 -2.6 2.8 v1.4 h-1.8 v2 h1.8 v5.5z" fill="#fff"/>
<g fill="none" stroke="#E9B940" stroke-linecap="round"><path d="M350.5 16 L342.8 42.5" stroke-width="4"/><path d="M338.5 19 q6 -0.5 12 -3.5" stroke-width="2.4"/><path d="M335.5 43.2 q8 1 16.5 0" stroke-width="2"/><ellipse cx="359.3" cy="33.7" rx="10.3" ry="14.6" stroke-width="2.8"/><path d="M345 28 q4 -10 10 -12" stroke-width="0.9"/></g><rect x="353" y="30" width="18" height="8.5" fill="#8E1B22"/><text x="354.5" y="38" font-family="Liberation Sans" font-size="8.5" font-weight="bold" fill="#E9B940" letter-spacing="-0.2">ILMSM</text><rect x="354" y="39.5" width="27" height="0.7" fill="#E9B940"/><text x="368" y="43.8" font-family="Liberation Sans" font-size="3" fill="#E9B940">2012-2022</text>
<path d="M408 14.7 L415.6 7 L423 14.7" fill="none" stroke="#4FC03A" stroke-width="2.2"/>
<text x="0" y="0" font-family="Liberation Sans" font-size="100" font-weight="bold" fill="#3F6CD2" transform="matrix(0.18328 0 0 0.22535 393.90 33.77)" letter-spacing="0" >HIES</text>
<text x="0" y="0" font-family="Liberation Sans" font-size="100" font-weight="bold" fill="#52C23C" transform="matrix(0.19454 0 0 0.21000 393.83 51.00)" letter-spacing="0" >BA</text>

<text x="0" y="0" font-family="Liberation Sans" font-size="100" font-weight="normal" fill="#4D7BE0" transform="matrix(0.09768 0 0 0.09437 424.51 43.11)" letter-spacing="10" >20</text>
<text x="0" y="0" font-family="Liberation Sans" font-size="100" font-weight="normal" fill="#4D7BE0" transform="matrix(0.09855 0 0 0.09571 424.51 51.00)" letter-spacing="10" >22</text>
<path d="M393 25 q-8 4 -6 11 q1.5 4 6 5.5 q-5 -3 -4 -8 q1 -5 5 -8z" fill="#4F7BD8"/>
<path d="M464.6 19.8 A15 15 0 0 1 479.6 34.8 L475.6 34.8 A11 11 0 0 0 464.6 23.8z" fill="#EE2A24"/><path d="M479.6 34.8 A15 15 0 0 1 464.6 49.8 L464.6 45.8 A11 11 0 0 0 475.6 34.8z" fill="#F8E81C"/><path d="M464.6 49.8 A15 15 0 0 1 450.1 38.5 L454 37.5 A11 11 0 0 0 464.6 45.8z" fill="#1E5FC8"/><polygon points="456.5,8.3 460.9,9.2 455.4,35.4 453,35.8 444.2,26.1 445.3,20.9 451.9,27.9" fill="#2AA4AC"/><polygon points="456.5,8.3 460.9,9.2 457.8,23.5 453.2,23.5" fill="#92D8D8"/><polygon points="459.4,21.3 464,22 460,37 456.1,35.8" fill="#2AA4AC"/><polygon points="459.4,21.3 464,22 462.5,27.5 458.1,27" fill="#92D8D8"/><polygon points="464,27.2 468.2,28.3 466,38.9 461.6,37.6" fill="#2AA4AC"/><polygon points="464,27.2 468.2,28.3 467.3,32.8 463,32.3" fill="#92D8D8"/><path d="M470 16 A19 19 0 0 1 483 40" fill="none" stroke="#3A3A9A" stroke-width="1.3" stroke-dasharray="1 0.8" opacity="0.8"/><path d="M446 40 A19 19 0 0 0 478 50" fill="none" stroke="#3A3A9A" stroke-width="1.3" stroke-dasharray="1 0.8" opacity="0.8"/>
<polygon points="513.57,11.76 519.71,13.25 516.24,21.55 512.86,20.73" fill="#E5243B" opacity="0.9"/>
<polygon points="520.67,13.67 525.86,17.28 519.62,23.77 516.77,21.79" fill="#DDA63A" opacity="0.9"/>
<polygon points="526.59,18.02 530.13,23.26 521.97,27.06 520.03,24.18" fill="#4C9F38" opacity="0.9"/>
<polygon points="530.55,24.22 531.96,30.38 522.98,30.97 522.20,27.58" fill="#C5192D" opacity="0.9"/>
<polygon points="532.00,31.42 531.09,37.67 522.50,34.99 523.00,31.55" fill="#FF3A21" opacity="0.9"/>
<polygon points="530.75,38.67 527.64,44.17 520.60,38.56 522.31,35.53" fill="#26BDE2" opacity="0.9"/>
<polygon points="526.97,44.97 522.08,48.97 517.54,41.20 520.23,39.00" fill="#FCC30B" opacity="0.9"/>
<polygon points="521.16,49.48 515.16,51.45 513.74,42.56 517.04,41.48" fill="#A21942" opacity="0.9"/>
<polygon points="514.12,51.59 507.81,51.26 509.70,42.46 513.17,42.64" fill="#FD6925" opacity="0.9"/>
<polygon points="506.79,51.01 501.03,48.42 505.97,40.90 509.14,42.32" fill="#DD1367" opacity="0.9"/>
<polygon points="500.17,47.83 495.73,43.33 503.05,38.10 505.49,40.57" fill="#FD9D24" opacity="0.9"/>
<polygon points="495.14,42.46 492.63,36.67 501.34,34.43 502.73,37.62" fill="#BF8B2E" opacity="0.9"/>
<polygon points="492.39,35.65 492.14,29.33 501.08,30.40 501.22,33.87" fill="#3F7E44" opacity="0.9"/>
<polygon points="492.29,28.30 494.34,22.32 502.28,26.54 501.16,29.83" fill="#0A97D9" opacity="0.9"/>
<polygon points="494.85,21.41 498.92,16.57 504.80,23.38 502.57,26.04" fill="#56C02B" opacity="0.9"/>
<polygon points="499.73,15.91 505.27,12.87 508.30,21.34 505.25,23.01" fill="#00689D" opacity="0.9"/>
<polygon points="506.26,12.54 512.52,11.71 512.29,20.70 508.84,21.16" fill="#19486A" opacity="0.9"/>
<text x="504" y="30" font-family="Liberation Sans" font-size="3.5" font-weight="bold" fill="#8aa0c8">GOALS</text><rect x="503" y="33.5" width="17" height="2" fill="#5a4a8a"/>
<text x="543" y="20.9" font-family="Liberation Sans" font-size="10.5" font-weight="bold" fill="#3AA8C2" letter-spacing="0.65">Stats<tspan font-weight="normal" fill="#4F93A8">Malaysia</tspan></text>
<rect x="543.1" y="27.1" width="15.9" height="16.4" fill="#2F8FA7"/>
<rect x="562.1" y="27.1" width="15.9" height="16.4" fill="#2F8FA7"/>
<rect x="582" y="27.1" width="15.9" height="16.4" fill="#2F8FA7"/>
<rect x="601.2" y="27.1" width="15.9" height="16.4" fill="#2F8FA7"/>
<text x="547.6" y="40.5" font-family="Liberation Sans" font-size="14" font-weight="bold" fill="#fff">f</text><rect x="565" y="30" width="10" height="10.5" rx="2.8" fill="none" stroke="#fff" stroke-width="1.3"/><circle cx="570" cy="35.3" r="2.4" fill="none" stroke="#fff" stroke-width="1.2"/><path d="M585 32 c2 1.5 4 2 6 2 c0 -2.5 2.5 -4 5 -2.5 l2 -.7 l-1 1.5 c0 5 -4 9 -10 8 c2 -.5 3 -1 4 -2 c-2 0 -4 -1.5 -5 -3 c1 0 1.5 0 2 -.2 c-2 -.5 -3 -2 -3 -3.1z" fill="#fff"/><rect x="604" y="30.5" width="10.5" height="9" rx="2.5" fill="#fff"/><polygon points="608,32.5 612,35 608,37.5" fill="#2F8FA7"/><rect x="543" y="46.6" width="74.5" height="1.3" fill="#5C8190"/><text x="546.6" y="55.6" font-family="Liberation Sans" font-size="6.8" fill="#5A7A8A" letter-spacing="0.69">www.dosm.gov.my</text>
<defs><pattern id="mos" width="64" height="64" patternUnits="userSpaceOnUse"><rect x="0" y="0" width="16" height="16" fill="#4A3434"/><rect x="0" y="16" width="16" height="16" fill="#5A6A7A"/><rect x="0" y="32" width="16" height="16" fill="#9A6A60"/><rect x="0" y="48" width="16" height="16" fill="#D8C0B0"/><rect x="16" y="0" width="16" height="16" fill="#C8A8A0"/><rect x="16" y="16" width="16" height="16" fill="#5A6A7A"/><rect x="16" y="32" width="16" height="16" fill="#E0D0C8"/><rect x="16" y="48" width="16" height="16" fill="#AA8070"/><rect x="32" y="0" width="16" height="16" fill="#5A6A7A"/><rect x="32" y="16" width="16" height="16" fill="#B09488"/><rect x="32" y="32" width="16" height="16" fill="#5A6A7A"/><rect x="32" y="48" width="16" height="16" fill="#6A4A48"/><rect x="48" y="0" width="16" height="16" fill="#E0D0C8"/><rect x="48" y="16" width="16" height="16" fill="#8A7A80"/><rect x="48" y="32" width="16" height="16" fill="#9A6A60"/><rect x="48" y="48" width="16" height="16" fill="#4A3434"/></pattern></defs>
<text x="0" y="0" font-family="Liberation Sans" font-size="100" font-weight="bold" fill="#E8CFCF" transform="matrix(0.24108 0 0 0.25634 654.05 28.94)" letter-spacing="-6" stroke="#E8CFCF" stroke-width="2.8" vector-effect="non-scaling-stroke">KELUARGA</text>
<text x="0" y="0" font-family="Liberation Sans" font-size="100" font-weight="bold" fill="#E8CFCF" transform="matrix(0.25928 0 0 0.28451 652.44 51.12)" letter-spacing="-6" stroke="#E8CFCF" stroke-width="2.8" vector-effect="non-scaling-stroke">MALAYSIA</text>
<text x="0" y="0" font-family="Liberation Sans" font-size="100" font-weight="bold" fill="url(#mos)" transform="matrix(0.24108 0 0 0.25634 654.05 28.94)" letter-spacing="-6" stroke="url(#mos)" stroke-width="1.6" vector-effect="non-scaling-stroke">KELUARGA</text>
<text x="0" y="0" font-family="Liberation Sans" font-size="100" font-weight="bold" fill="url(#mos)" transform="matrix(0.25928 0 0 0.28451 652.44 51.12)" letter-spacing="-6" stroke="url(#mos)" stroke-width="1.6" vector-effect="non-scaling-stroke">MALAYSIA</text>
<rect x="638.5" y="12" width="16" height="17" fill="#2B3F8E" stroke="#E8D8D8" stroke-width="0.8"/><circle cx="646.5" cy="19" r="4" fill="#E6D6CC"/><rect x="641" y="23.5" width="11" height="5" fill="#E8E0E0"/>
<g id="illus"><path d="M596 592.5 C589 594 582 602 576 614 C569 628 564.5 642 564 656 C563.5 666 565 673 570 677 C577 680 590 680 600 678 C604.5 676.5 606.5 672 606.8 662 C607 645 606 628 605 612 C604.5 602 602 594 596 592.5z" fill="#9A0B12"/><path d="M626 593 C621 596 619 604 618.8 614 C618.5 632 618 650 618.5 664 C619 673 622 678.5 631 679 C642 679.5 652 678 660 672 L664 640 L642 596z" fill="#9A0B12"/><path d="M609.5 597.5 C610 596 616.5 596 617 597.5 L617 615 C620 619 623 622 626 625 L622 628 C619 625 616 622 613.3 619 C610.5 622 607.5 625 604.5 628 L600.5 625 C603.5 622 606.5 619 609.5 615z" fill="#9A0B12"/><g fill="#fff"><path d="M603 618 C600 626 597 636 595 646 C593 656 591 664 588 670 L590.5 671 C594 664 596 656 598 646 C600 636 602.5 627 605 620z"/><path d="M604 614 L593 607 M602 622 L584 619 M599 634 L582 634 M596 650 L583 650 M593 662 L584 664 M600 630 L591 638 M597 646 L592 654 M604 616 L596 611 M632 650 L626 657 L630 663 L624 669 M630 663 L636 670" stroke="#fff" stroke-width="3.4" stroke-linecap="round" fill="none"/><ellipse cx="590" cy="605" rx="4.5" ry="3.2"/><ellipse cx="596" cy="610" rx="2.8" ry="2.5"/><ellipse cx="584" cy="619" rx="4.5" ry="3.2"/><ellipse cx="592" cy="624" rx="3.2" ry="3"/><ellipse cx="582" cy="634" rx="4.8" ry="3.4"/><ellipse cx="590" cy="639" rx="3.5" ry="3"/><ellipse cx="583" cy="650" rx="4.5" ry="3.4"/><ellipse cx="591" cy="655" rx="3" ry="3.5"/><ellipse cx="584" cy="664" rx="4" ry="3"/><ellipse cx="595" cy="667" rx="3" ry="3.5"/><ellipse cx="627" cy="655" rx="3.5" ry="3.2"/><ellipse cx="630" cy="662" rx="4" ry="3.5"/><ellipse cx="624" cy="669" rx="3.2" ry="3.2"/><ellipse cx="636" cy="670" rx="3.5" ry="3"/></g><defs><linearGradient id="hg" x1="0" y1="0" x2="1" y2="1"><stop offset="0" stop-color="#F80A0A"/><stop offset="0.6" stop-color="#D80A0F"/><stop offset="1" stop-color="#A5060C"/></linearGradient><linearGradient id="ah" x1="0" y1="0" x2="1" y2="0"><stop offset="0" stop-color="#C85650"/><stop offset="0.5" stop-color="#E97F76"/><stop offset="1" stop-color="#E07268"/></linearGradient></defs><path d="M663.4 600.2 C660 594 655 591.5 650.3 591.2 C645 590.5 639 589.8 634.2 590.2 C628 591 623.5 595 622.1 600.2 C619.5 606 618 611 618.1 616.3 C618.3 624 619.5 631 622.1 636.5 C626 643 631 647 636.2 650.6 C643 655 650 658 656.3 660.7 C663 663.5 670 666.5 676.5 669.7 C681 667 686 664 690.6 660.7 C696 655.5 701 649 704.7 642.5 C708 636 710.5 629 711.8 622.4 C713 615 713.2 608 712.8 602.2 C712 596 710 590 706.7 586.1 C703 582.5 699 580.5 694.6 580.1 C689 579.5 683 580 678.5 582.1 C674 584 670.5 587 668.4 590.2 C666 593.5 664.5 597 663.4 600.2z" fill="url(#hg)" stroke="#6A0508" stroke-width="0.8"/><polyline points="636,648.6 645.3,637.5 658.4,642.6 654.8,597.2 674.5,661.7 680.6,633.5 685.6,622.4 694.7,631.5 704.7,625.4 711,624.4" fill="none" stroke="#5A0205" stroke-width="2.6" stroke-linejoin="round" opacity="0.55" transform="translate(0.8 1)"/><polyline points="636,648.6 645.3,637.5 658.4,642.6 654.8,597.2 674.5,661.7 680.6,633.5 685.6,622.4 694.7,631.5 704.7,625.4 711,624.4" fill="none" stroke="#fff" stroke-width="1.5" stroke-linejoin="round"/><polyline points="661,692 665,692 666.5,679 668.5,697 670,691 675,691 678,689 683,692" fill="none" stroke="#E8141C" stroke-width="0.9"/><polyline points="736,696 740,696 743,683 746,701 748,693 752,690 756,689 758,693 761,694" fill="none" stroke="#E8141C" stroke-width="0.9"/><path d="M689.8 645.6 C687 648 685 655 683.5 662 C682 667 681 675 680.8 682.3 C680.5 690 682 700 684 705 C686.5 710 692 715 700 720 C706 723.5 716 728 724 730 C727 730.8 730 731 732 730.8 C735 730 737 728.5 738 726 C739.5 721 740.5 710 740.3 697.6 C740 689 738.5 680 735.5 672.6 C734 668 732 664 729 661 C731.5 660.5 734 660.5 736.5 660 C738 658.5 738.3 654 736.2 651.9 C733 650.5 729 650 725 649.5 C725.5 647 726.5 643 726.5 639.5 C725 637 723.5 636 722 636.5 C720.5 636 719.5 636.5 718.5 637 C717.5 634.5 715 633 712 634.5 C710.5 633 707 631.5 704.5 632 C702.5 632.5 701.5 634 701.5 635 C702 638 702.5 642 703 646 C700 645.5 697 644.5 694 644.5 C692 644.5 690.5 645 689.8 645.6z" fill="#E2776E" stroke="#4A1010" stroke-width="1.1"/><path d="M683 688 C684 699 690 709 700 716 C710 723 721 727 731 728 C734 726.5 736 723 737 718 C728 722 716 719 706 713 C696 707 688 699 685 686z" fill="#F29C92"/><path d="M681.5 684 C684 699 694 712 710 721 C718 725.5 726 728 731 729 L724 730 C712 726 700 720 692 713 C686 707 682 697 681.5 684z" fill="#C85850"/><path d="M690 647 C686 655 683 668 682 680 C686 675 692 671 697 671 C699 662 698 652 694 645z" fill="#D0625A"/><path d="M703 646 C708 649 716 650 725 649.5 M682 684 C690 676 700 672 710 671 M697 672 C701 660 711 654 724 651 M690 646 C697 650 700 660 698.5 672 M720 671 C722 690 726 710 731 728 M721 669 C724 663 730 662 734 670 M703 646 C703 655 705 663 708 671" fill="none" stroke="#4A1010" stroke-width="0.9"/><path d="M705 690 C710 698 715 706 718 716 M712 700 C708 706 706 712 704 717 M725 688 C726 698 728 708 732 720 M692 700 C697 706 700 712 702 716" fill="none" stroke="#7A2A2A" stroke-width="0.5"/><path d="M588.9 707.8 L632 698 L700 770 L692 786 L662.6 817.4 L645 811 L619 770.1 L573.8 764.5 L573.8 758z" fill="#1E5A46"/><path d="M573.8 758 L575 764.5 L619 770.1 L617 766 L577 760z" fill="#7FA898" opacity="0.7"/><path d="M662.6 817.4 L692 786 L700 772 L690.9 783.4 L660.7 813.6z" fill="#C8CEDC"/><text x="0" y="0" font-family="Liberation Serif" font-size="13" font-weight="bold" fill="#E0EEE8" transform="translate(589 753) rotate(-6)">ICI</text><path d="M575 762 L618 768 M576 765.5 L619 771" stroke="#8FB8A8" stroke-width="0.8"/><path d="M636.1 785.2 L711.7 764.4 L715.5 758.8 L709.8 774.9 L638 800.4z" fill="#D2D6E2"/><path d="M638 800.4 L709.8 774.9 L710.5 777 L640 803z" fill="#5A6A80"/><path d="M593.6 696.4 L662.6 676.6 L715.5 758.8 L636.1 791z" fill="#225E4A"/><path d="M593.6 696.4 L600 694.6 L642 789 L636.1 791z" fill="#174A38"/><path d="M624.8 694.6 L664.5 766.4" stroke="#D8E8E0" stroke-width="0.6"/><text x="0" y="0" font-family="Liberation Serif" font-size="14.5" font-weight="bold" fill="#F0F6F2" transform="translate(609.5 700.5) rotate(60)">ICD-10</text><g fill="#C8DCD4" opacity="0.75" transform="translate(6 1)"><rect x="0" y="0" width="24" height="0.9" transform="translate(627.5 692) rotate(60)"/><rect x="0" y="0" width="24" height="0.9" transform="translate(630.5 690.8) rotate(60)"/><rect x="0" y="0" width="24" height="0.9" transform="translate(633.5 689.6) rotate(60)"/><rect x="0" y="0" width="22" height="0.9" transform="translate(636.5 688.4) rotate(60)"/><rect x="0" y="0" width="20" height="0.9" transform="translate(639.5 687.2) rotate(60)"/><rect x="0" y="0" width="10" height="0.9" transform="translate(645 714) rotate(60)"/><rect x="0" y="0" width="10" height="0.9" transform="translate(648 713) rotate(60)"/><rect x="0" y="0" width="6" height="0.9" transform="translate(655 728) rotate(60)"/></g><circle cx="666" cy="761.5" r="2" fill="none" stroke="#E0EEE8" stroke-width="0.6"/></g>
<defs><linearGradient id="fb" x1="0" y1="0" x2="1" y2="0"><stop offset="0" stop-color="#D57777"/><stop offset="0.38" stop-color="#DA7A7A"/><stop offset="0.75" stop-color="#FC8E8E"/><stop offset="1" stop-color="#FF9393"/></linearGradient><linearGradient id="dk" x1="0" y1="0" x2="1" y2="0"><stop offset="0" stop-color="#2E1A1B"/><stop offset="1" stop-color="#140C0C"/></linearGradient><linearGradient id="dk2" x1="0" y1="0" x2="1" y2="0"><stop offset="0" stop-color="#3E2426"/><stop offset="1" stop-color="#4E2E30"/></linearGradient><linearGradient id="fadeR" x1="0" y1="0" x2="1" y2="0"><stop offset="0" stop-color="#3a2020"/><stop offset="1" stop-color="#3a2020" stop-opacity="0"/></linearGradient></defs>
<rect x="0" y="942" width="794" height="41" fill="url(#fb)"/>
<rect x="0" y="942" width="794" height="12" fill="#FF8E8E"/>
<rect x="0" y="942" width="794" height="1" fill="#E87878"/>
<polygon points="0,942 240,942 235,949 0,949" fill="#C47272"/>
<polygon points="0,942 85,942 78,949 0,949" fill="url(#dk2)"/>
<polygon points="0,949 166,949 121.5,983 0,983" fill="url(#dk)"/>
<rect x="0" y="978.5" width="117" height="4.5" fill="#F88A8A"/>
<polygon points="35,955 42,960 60,960 75.5,942 66.5,942" fill="#5A3435" opacity="0.9"/>
<polygon points="163,949 180,943 236,943 225,953 212,962 199,983 121.5,983" fill="#3A2122"/>
<polygon points="150,968 176,946 192,946 166,968" fill="#5E3838" opacity="0.8"/>
<polygon points="190,957 212,945 226,945 204,957" fill="#6A4444" opacity="0.8"/>
<polygon points="168,983 206,952 226,952 188,983" fill="#221313"/>
<polygon points="200,960 238,960 230,967 192,967" fill="#4A2A2A" opacity="0.8"/>
<polygon points="212,944 222,942 236,942 248,949 232,950" fill="#2A1818" opacity="0.8"/>
<polygon points="246,954 277,954 263,961 240,961" fill="url(#fadeR)"/>
<polygon points="224,971 252,971 246,978 218,978" fill="#3a2222"/>
<polygon points="199,983 212,962 225,953 236,949 270,949 240,983" fill="#C87272" opacity="0.35"/>
<text x="98.70" y="109.10" font-family="Liberation Sans" font-size="21" font-weight="bold" fill="#fff" letter-spacing="0.069" word-spacing="4" >Medically certified causes of death*, Malaysia, 2020-2021</text>
<text x="22.00" y="56.70" font-family="Liberation Sans" font-size="6.3" font-weight="bold" fill="#fff" letter-spacing="0.138" word-spacing="0" >PRIME MINI STER&#x27; S DEPARTMENT</text>
<text x="10.30" y="64.80" font-family="Liberation Sans" font-size="6.3" font-weight="bold" fill="#fff" letter-spacing="0.026" word-spacing="0" >DEPARTMENT OF  STATI STIC S  MALAY SIA</text>
<text x="31.60" y="210.90" font-family="Liberation Sans" font-size="11" font-weight="normal" fill="#1E1E1E" letter-spacing="0.472" word-spacing="0" stroke="#1E1E1E" stroke-width="0.1">Diseases of the circulatory system</text>
<text x="31.60" y="251.30" font-family="Liberation Sans" font-size="11" font-weight="normal" fill="#1E1E1E" letter-spacing="0.472" word-spacing="0" stroke="#1E1E1E" stroke-width="0.1">Codes for special purposes</text>
<text x="31.60" y="293.30" font-family="Liberation Sans" font-size="11" font-weight="normal" fill="#1E1E1E" letter-spacing="0.495" word-spacing="0" stroke="#1E1E1E" stroke-width="0.1">Diseases of the respiratory system</text>
<text x="31.60" y="332.80" font-family="Liberation Sans" font-size="11" font-weight="normal" fill="#1E1E1E" letter-spacing="0.597" word-spacing="0" stroke="#1E1E1E" stroke-width="0.1">Neoplasms</text>
<text x="31.60" y="372.10" font-family="Liberation Sans" font-size="11" font-weight="normal" fill="#1E1E1E" letter-spacing="0.520" word-spacing="0" stroke="#1E1E1E" stroke-width="0.1">Certain infectious and parasitic diseases</text>
<text x="31.60" y="414.80" font-family="Liberation Sans" font-size="11" font-weight="normal" fill="#1E1E1E" letter-spacing="0.624" word-spacing="0" stroke="#1E1E1E" stroke-width="0.1">External causes of morbidity and mortality</text>
<text x="31.60" y="449.10" font-family="Liberation Sans" font-size="11" font-weight="normal" fill="#1E1E1E" letter-spacing="0.592" word-spacing="0" stroke="#1E1E1E" stroke-width="0.1">Symptoms, sign and abnormal clinical and laboratory</text>
<text x="31.60" y="461.20" font-family="Liberation Sans" font-size="11" font-weight="normal" fill="#1E1E1E" letter-spacing="0.573" word-spacing="0" stroke="#1E1E1E" stroke-width="0.1">findings, not elsewhere classified</text>
<text x="31.60" y="498.20" font-family="Liberation Sans" font-size="11" font-weight="normal" fill="#1E1E1E" letter-spacing="0.514" word-spacing="0" stroke="#1E1E1E" stroke-width="0.1">Diseases of the genitourinary system</text>
<text x="31.60" y="539.80" font-family="Liberation Sans" font-size="11" font-weight="normal" fill="#1E1E1E" letter-spacing="0.585" word-spacing="0" stroke="#1E1E1E" stroke-width="0.1">Endocrine, nutritional and metabolic diseases</text>
<text x="31.60" y="580.90" font-family="Liberation Sans" font-size="11" font-weight="normal" fill="#1E1E1E" letter-spacing="0.412" word-spacing="0" stroke="#1E1E1E" stroke-width="0.1">Diseases of the digestive system</text>
<text x="31.60" y="623.20" font-family="Liberation Sans" font-size="11" font-weight="normal" fill="#1E1E1E" letter-spacing="0.419" word-spacing="0" stroke="#1E1E1E" stroke-width="0.1">Diseases of the nervous system</text>
<text x="31.60" y="664.80" font-family="Liberation Sans" font-size="11" font-weight="normal" fill="#1E1E1E" letter-spacing="0.456" word-spacing="0" stroke="#1E1E1E" stroke-width="0.1">Diseases of the skin and subcutaneous tissue</text>
<text x="31.60" y="698.40" font-family="Liberation Sans" font-size="11" font-weight="normal" fill="#1E1E1E" letter-spacing="0.461" word-spacing="0" stroke="#1E1E1E" stroke-width="0.1">Diseases of the musculoskeletal system and</text>
<text x="31.60" y="711.20" font-family="Liberation Sans" font-size="11" font-weight="normal" fill="#1E1E1E" letter-spacing="0.627" word-spacing="0" stroke="#1E1E1E" stroke-width="0.1">connective tissue</text>
<text x="31.60" y="749.00" font-family="Liberation Sans" font-size="11" font-weight="normal" fill="#1E1E1E" letter-spacing="0.649" word-spacing="0" stroke="#1E1E1E" stroke-width="0.1">Certain conditions originating in the perinatal period</text>
<text x="31.60" y="784.10" font-family="Liberation Sans" font-size="11" font-weight="normal" fill="#1E1E1E" letter-spacing="0.678" word-spacing="0" stroke="#1E1E1E" stroke-width="0.1">Congenital malformations, deformations and</text>
<text x="31.60" y="796.60" font-family="Liberation Sans" font-size="11" font-weight="normal" fill="#1E1E1E" letter-spacing="0.792" word-spacing="0" stroke="#1E1E1E" stroke-width="0.1">chromosomal abnormalities</text>
<text x="31.60" y="826.00" font-family="Liberation Sans" font-size="11" font-weight="normal" fill="#1E1E1E" letter-spacing="0.557" word-spacing="0" stroke="#1E1E1E" stroke-width="0.1">Diseases of the blood and blood-forming organs and</text>
<text x="31.60" y="838.50" font-family="Liberation Sans" font-size="11" font-weight="normal" fill="#1E1E1E" letter-spacing="0.612" word-spacing="0" stroke="#1E1E1E" stroke-width="0.1">certain disorders involving immune mechanism</text>
<text x="31.60" y="877.00" font-family="Liberation Sans" font-size="11" font-weight="normal" fill="#1E1E1E" letter-spacing="0.626" word-spacing="0" stroke="#1E1E1E" stroke-width="0.1">Pregnancy, childbirth and the puerperium</text>
<text x="339.80" y="210.75" font-family="Liberation Sans" font-size="11" font-weight="bold" fill="#0D0D0D" letter-spacing="-0.431" word-spacing="0" >26.4</text>
<text x="722.40" y="210.55" font-family="Liberation Sans" font-size="11" font-weight="normal" fill="#383838" letter-spacing="0.969" word-spacing="0" stroke="#383838" stroke-width="0.3">32.8</text>
<text x="380.00" y="251.87" font-family="Liberation Sans" font-size="11" font-weight="bold" fill="#0D0D0D" letter-spacing="-0.131" word-spacing="0" >19.8</text>
<text x="530.80" y="251.67" font-family="Liberation Sans" font-size="11" font-weight="normal" fill="#383838" letter-spacing="1.013" word-spacing="0" stroke="#383838" stroke-width="0.3">0.4</text>
<text x="403.40" y="293.00" font-family="Liberation Sans" font-size="11" font-weight="bold" fill="#0D0D0D" letter-spacing="-0.164" word-spacing="0" >15.6</text>
<text x="627.40" y="292.80" font-family="Liberation Sans" font-size="11" font-weight="normal" fill="#383838" letter-spacing="0.836" word-spacing="0" stroke="#383838" stroke-width="0.3">17.0</text>
<text x="436.10" y="334.12" font-family="Liberation Sans" font-size="11" font-weight="bold" fill="#0D0D0D" letter-spacing="-0.164" word-spacing="0" >10.5</text>
<text x="617.40" y="333.93" font-family="Liberation Sans" font-size="11" font-weight="normal" fill="#383838" letter-spacing="0.703" word-spacing="0" stroke="#383838" stroke-width="0.3">15.4</text>
<text x="466.40" y="375.25" font-family="Liberation Sans" font-size="11" font-weight="bold" fill="#0D0D0D" letter-spacing="0.263" word-spacing="0" >5.9</text>
<text x="564.60" y="375.05" font-family="Liberation Sans" font-size="11" font-weight="normal" fill="#383838" letter-spacing="0.763" word-spacing="0" stroke="#383838" stroke-width="0.3">6.7</text>
<text x="475.70" y="416.38" font-family="Liberation Sans" font-size="11" font-weight="bold" fill="#0D0D0D" letter-spacing="0.063" word-spacing="0" >4.6</text>
<text x="563.60" y="416.18" font-family="Liberation Sans" font-size="11" font-weight="normal" fill="#383838" letter-spacing="1.113" word-spacing="0" stroke="#383838" stroke-width="0.3">6.5</text>
<text x="479.50" y="457.50" font-family="Liberation Sans" font-size="11" font-weight="bold" fill="#0D0D0D" letter-spacing="0.563" word-spacing="0" >4.0</text>
<text x="552.90" y="457.30" font-family="Liberation Sans" font-size="11" font-weight="normal" fill="#383838" letter-spacing="0.863" word-spacing="0" stroke="#383838" stroke-width="0.3">4.4</text>
<text x="483.70" y="498.62" font-family="Liberation Sans" font-size="11" font-weight="bold" fill="#0D0D0D" letter-spacing="-0.237" word-spacing="0" >3.2</text>
<text x="549.60" y="498.43" font-family="Liberation Sans" font-size="11" font-weight="normal" fill="#383838" letter-spacing="0.763" word-spacing="0" stroke="#383838" stroke-width="0.3">4.2</text>
<text x="485.60" y="539.75" font-family="Liberation Sans" font-size="11" font-weight="bold" fill="#0D0D0D" letter-spacing="-0.087" word-spacing="0" >2.7</text>
<text x="543.90" y="539.55" font-family="Liberation Sans" font-size="11" font-weight="normal" fill="#383838" letter-spacing="0.763" word-spacing="0" stroke="#383838" stroke-width="0.3">3.1</text>
<text x="486.80" y="580.88" font-family="Liberation Sans" font-size="11" font-weight="bold" fill="#0D0D0D" letter-spacing="-0.237" word-spacing="0" >2.7</text>
<text x="544.70" y="580.68" font-family="Liberation Sans" font-size="11" font-weight="normal" fill="#383838" letter-spacing="1.063" word-spacing="0" stroke="#383838" stroke-width="0.3">3.5</text>
<text x="499.20" y="622.00" font-family="Liberation Sans" font-size="11" font-weight="bold" fill="#0D0D0D" letter-spacing="0.113" word-spacing="0" >1.0</text>
<text x="532.20" y="621.80" font-family="Liberation Sans" font-size="11" font-weight="normal" fill="#383838" letter-spacing="0.813" word-spacing="0" stroke="#383838" stroke-width="0.3">1.4</text>
<text x="499.60" y="663.13" font-family="Liberation Sans" font-size="11" font-weight="bold" fill="#0D0D0D" letter-spacing="0.113" word-spacing="0" >0.9</text>
<text x="532.20" y="662.93" font-family="Liberation Sans" font-size="11" font-weight="normal" fill="#383838" letter-spacing="0.813" word-spacing="0" stroke="#383838" stroke-width="0.3">1.2</text>
<text x="498.80" y="704.25" font-family="Liberation Sans" font-size="11" font-weight="bold" fill="#0D0D0D" letter-spacing="-0.137" word-spacing="0" >0.7</text>
<text x="530.60" y="704.05" font-family="Liberation Sans" font-size="11" font-weight="normal" fill="#383838" letter-spacing="1.263" word-spacing="0" stroke="#383838" stroke-width="0.3">0.9</text>
<text x="498.50" y="745.38" font-family="Liberation Sans" font-size="11" font-weight="bold" fill="#0D0D0D" letter-spacing="0.063" word-spacing="0" >0.7</text>
<text x="531.60" y="745.18" font-family="Liberation Sans" font-size="11" font-weight="normal" fill="#383838" letter-spacing="1.163" word-spacing="0" stroke="#383838" stroke-width="0.3">1.0</text>
<text x="498.50" y="786.50" font-family="Liberation Sans" font-size="11" font-weight="bold" fill="#0D0D0D" letter-spacing="0.263" word-spacing="0" >0.6</text>
<text x="531.60" y="786.30" font-family="Liberation Sans" font-size="11" font-weight="normal" fill="#383838" letter-spacing="1.013" word-spacing="0" stroke="#383838" stroke-width="0.3">0.9</text>
<text x="500.50" y="827.63" font-family="Liberation Sans" font-size="11" font-weight="bold" fill="#0D0D0D" letter-spacing="-0.287" word-spacing="0" >0.4</text>
<text x="530.80" y="827.43" font-family="Liberation Sans" font-size="11" font-weight="normal" fill="#383838" letter-spacing="1.113" word-spacing="0" stroke="#383838" stroke-width="0.3">0.6</text>
<text x="502.80" y="868.75" font-family="Liberation Sans" font-size="11" font-weight="bold" fill="#0D0D0D" letter-spacing="-0.237" word-spacing="0" >0.1</text>
<text x="526.60" y="868.55" font-family="Liberation Sans" font-size="11" font-weight="normal" fill="#383838" letter-spacing="0.913" word-spacing="0" stroke="#383838" stroke-width="0.3">0.1</text>
<text x="331.30" y="904.90" font-family="Liberation Sans" font-size="10.5" font-weight="normal" fill="#404040" letter-spacing="0.068" word-spacing="0" >30.0</text>
<text x="392.40" y="904.90" font-family="Liberation Sans" font-size="10.5" font-weight="normal" fill="#404040" letter-spacing="-0.065" word-spacing="0" >20.0</text>
<text x="453.00" y="904.90" font-family="Liberation Sans" font-size="10.5" font-weight="normal" fill="#404040" letter-spacing="-0.365" word-spacing="0" >10.0</text>
<text x="516.10" y="904.90" font-family="Liberation Sans" font-size="10.5" font-weight="normal" fill="#6E6E6E" letter-spacing="0.022" word-spacing="0" >0.0</text>
<text x="573.70" y="904.90" font-family="Liberation Sans" font-size="10.5" font-weight="normal" fill="#6E6E6E" letter-spacing="-0.165" word-spacing="0" >10.0</text>
<text x="634.20" y="904.90" font-family="Liberation Sans" font-size="10.5" font-weight="normal" fill="#6E6E6E" letter-spacing="0.068" word-spacing="0" >20.0</text>
<text x="695.20" y="904.90" font-family="Liberation Sans" font-size="10.5" font-weight="normal" fill="#6E6E6E" letter-spacing="0.001" word-spacing="0" >30.0</text>
<text x="755.40" y="904.90" font-family="Liberation Sans" font-size="10.5" font-weight="normal" fill="#6E6E6E" letter-spacing="0.001" word-spacing="0" >40.0</text>
<text x="419.20" y="173.80" font-family="Liberation Sans" font-size="33" font-weight="normal" fill="#BE1E2D" letter-spacing="0.847" word-spacing="0" stroke="#8E1822" stroke-width="1.7" paint-order="stroke">2021</text>
<text x="561.80" y="172.00" font-family="Liberation Sans" font-size="33" font-weight="normal" fill="#DD6D76" letter-spacing="0.847" word-spacing="0" stroke="#A24A52" stroke-width="1.7" paint-order="stroke">2020</text>
<text x="22.40" y="936.00" font-family="Liberation Sans" font-size="10.5" font-weight="normal" fill="#404040" letter-spacing="0.093" word-spacing="0" >Note: * The analysis is based on three (3) digits code of ICD 10</text>
<text x="460.50" y="962.40" font-family="Liberation Sans" font-size="12.5" font-weight="bold" fill="#1A1A1A" letter-spacing="0.006" word-spacing="0" >Source: Statistics on Causes of Death, Malaysia, 2022,</text>
<text x="578.00" y="978.50" font-family="Liberation Sans" font-size="12.5" font-weight="bold" fill="#1A1A1A" letter-spacing="0.156" word-spacing="0" >Department of Statistics Malaysia</text>
<text x="0" y="0" font-family="Liberation Serif" font-size="100" font-weight="bold" fill="#000" transform="matrix(0.19520 0 0 0.17826 362.72 181.88)" letter-spacing="0" >(%)</text>
<text x="0" y="0" font-family="Liberation Serif" font-size="100" font-weight="bold" fill="#000" transform="matrix(0.19836 0 0 0.17609 689.41 181.03)" letter-spacing="0" >(%)</text>
</svg></body></html>
